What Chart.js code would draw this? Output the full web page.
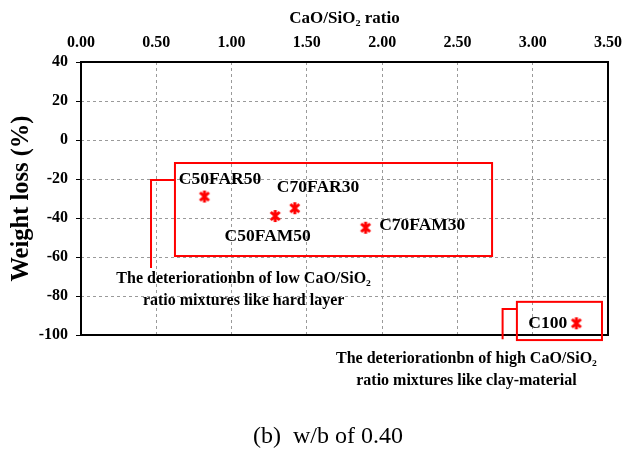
<!DOCTYPE html>
<html>
<head>
<meta charset="utf-8">
<script src="https://cdn.jsdelivr.net/npm/chart.js@4"></script>
<style>
  html, body { margin: 0; padding: 0; background: #fff; }
  #wrap { width: 635px; height: 453px; position: relative; }
</style>
</head>
<body>
<div id="wrap"><canvas id="chart"></canvas></div>
<script>
// mixtures
const mixNames = ["C50FAR50", "C50FAM50", "C70FAR30", "C70FAM30", "C100"];
const caoSio2 = [0.82, 1.29, 1.42, 1.89, 3.29];
const weightLoss = [-29, -39, -35, -45, -94];

const xTicks = [0, 0.5, 1, 1.5, 2, 2.5, 3, 3.5];
const yTicks = [40, 20, 0, -20, -40, -60, -80, -100];

// annotation layout (data units)
const notes = {
    labels: [
        { x: 0.65, y: -20.5, align: "left" },
        { x: 1.24, y: -49.7, align: "center" },
        { x: 1.574, y: -24.6, align: "center" },
        { x: 1.98, y: -44, align: "left" },
        { x: 3.10, y: -94, align: "center" }
    ],
    boxes: [
        { x1: 0.624, x2: 2.73, y1: -11.8, y2: -59.5 },
        { x1: 2.895, x2: 3.46, y1: -83, y2: -102.6 }
    ],
    leaders: [
        [[0.624, -20.5], [0.465, -20.5], [0.465, -65.6]],
        [[2.895, -86.7], [2.80, -86.7], [2.80, -102.2]]
    ],
    texts: [
        { x: 1.08, y: -71, lines: ["The deteriorationbn of low CaO/SiO\u2082", "ratio mixtures like hard layer"] },
        { x: 2.56, y: -112, lines: ["The deteriorationbn of high CaO/SiO\u2082", "ratio mixtures like clay-material"] }
    ]
};

const serif = "'Liberation Serif', 'Times New Roman', serif";

// six-spoke asterisk marker
const makeStar = () => {
    const c = document.createElement("canvas");
    c.width = 14; c.height = 14;
    const g = c.getContext("2d");
    g.strokeStyle = "#ff0000";
    g.lineWidth = 3;
    g.beginPath();
    g.moveTo(2.5, 3); g.lineTo(11.5, 11);
    g.moveTo(11.5, 3); g.lineTo(2.5, 11);
    g.moveTo(7, 1); g.lineTo(7, 13);
    g.stroke();
    return c;
};

const annotate = {
    id: "annotate",
    afterDatasetsDraw(chart) {
        const { ctx, chartArea: a, scales: { x, y } } = chart;
        ctx.save();
        ctx.strokeStyle = "#000";
        ctx.lineWidth = 2;
        ctx.strokeRect(a.left, a.top, a.right - a.left, a.bottom - a.top);

        ctx.strokeStyle = "#ff0000";
        ctx.lineWidth = 2;
        notes.boxes.forEach(b => {
            const px1 = x.getPixelForValue(b.x1), px2 = x.getPixelForValue(b.x2);
            const py1 = y.getPixelForValue(b.y1), py2 = y.getPixelForValue(b.y2);
            ctx.strokeRect(px1, py1, px2 - px1, py2 - py1);
        });
        notes.leaders.forEach(pts => {
            ctx.beginPath();
            pts.forEach((p, i) => {
                const px = x.getPixelForValue(p[0]), py = y.getPixelForValue(p[1]);
                if (i === 0) ctx.moveTo(px, py); else ctx.lineTo(px, py);
            });
            ctx.stroke();
        });

        ctx.fillStyle = "#000";
        ctx.font = "bold 17.5px " + serif;
        ctx.textBaseline = "middle";
        notes.labels.forEach((l, i) => {
            ctx.textAlign = l.align;
            ctx.fillText(mixNames[i], x.getPixelForValue(l.x), y.getPixelForValue(l.y));
        });

        ctx.font = "bold 16px " + serif;
        ctx.textAlign = "center";
        notes.texts.forEach(t => {
            const px = x.getPixelForValue(t.x), py = y.getPixelForValue(t.y);
            t.lines.forEach((s, i) => ctx.fillText(s, px, py + i * 22));
        });

        ctx.font = "24px " + serif;
        ctx.fillText("(b)  w/b of 0.40", 328, 437);
        ctx.restore();
    }
};

const grid = { color: "#9a9a9a", lineWidth: 1, drawTicks: false };

new Chart(document.getElementById("chart"), {
    type: "scatter",
    data: {
        datasets: [{
            data: caoSio2.map((v, i) => ({ x: v, y: weightLoss[i] })),
            pointStyle: makeStar(),
            borderColor: "#ff0000",
            backgroundColor: "#ff0000"
        }]
    },
    options: {
        responsive: true,
        maintainAspectRatio: false,
        animation: false,
        layout: { padding: { left: 0, right: 27, top: 0, bottom: 118 } },
        plugins: { legend: { display: false }, tooltip: { enabled: false } },
        scales: {
            x: {
                type: "linear",
                position: "top",
                min: 0, max: 3.5,
                afterBuildTicks: s => { s.ticks = xTicks.map(v => ({ value: v })); },
                afterFit: s => { s.height = 62; },
                grid: { ...grid },
                border: { display: false, dash: [3, 3] },
                ticks: {
                    color: "#000",
                    padding: 10,
                    maxRotation: 0,
                    font: { family: serif, size: 16, weight: "bold" },
                    callback: v => Number(v).toFixed(2)
                },
                title: {
                    display: true,
                    text: "CaO/SiO\u2082 ratio",
                    color: "#000",
                    padding: { top: 8, bottom: 0 },
                    font: { family: serif, size: 17, weight: "bold" }
                }
            },
            y: {
                type: "linear",
                min: -100, max: 40,
                afterBuildTicks: s => { s.ticks = yTicks.map(v => ({ value: v })); },
                afterFit: s => { s.width = 81; },
                grid: { ...grid, drawTicks: true, tickLength: 5, tickColor: "#000" },
                border: { display: false, dash: [3, 3] },
                ticks: {
                    color: "#000",
                    padding: 8,
                    font: { family: serif, size: 16, weight: "bold" }
                },
                title: {
                    display: true,
                    text: "Weight loss (%)",
                    color: "#000",
                    padding: { top: 7, bottom: 0 },
                    font: { family: serif, size: 24.5, weight: "bold" }
                }
            }
        }
    },
    plugins: [annotate]
});
</script>
</body>
</html>
